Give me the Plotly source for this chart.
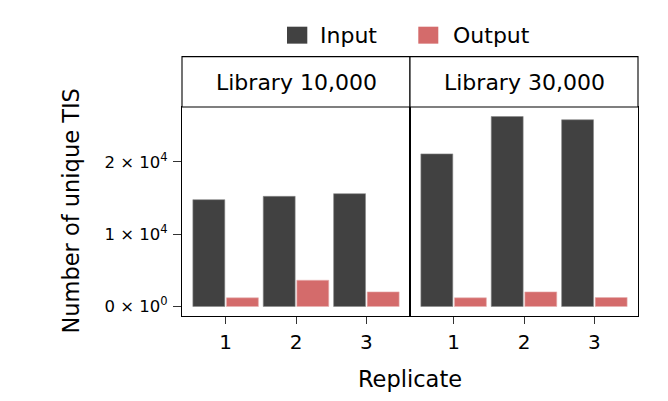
import plotly.graph_objects as go

replicates = [1, 2, 3]
libraries = ["Library 10,000", "Library 30,000"]
input_lib10 = [14770, 15230, 15600]
output_lib10 = [1200, 3630, 2020]
input_lib30 = [21100, 26270, 25820]
output_lib30 = [1200, 2020, 1240]
y_tickvals = [0, 10000, 20000]
y_ticktext = ["0 × 10<sup>0</sup>", "1 × 10<sup>4</sup>", "2 × 10<sup>4</sup>"]

C_IN = "#414141"
C_OUT = "#D46B6B"
FONT = "DejaVu Sans"

W, H = 668, 401
OFF = 8  # page body margin
L, R, T, B = 181.7, 637.7, 106.5, 316.0
pw, ph = R - L, B - T

def px_x(px):
    return (px - L) / pw

def px_y(py):
    return (B - py) / ph

fig = go.Figure()
data = [(input_lib10, output_lib10, "x", "y"), (input_lib30, output_lib30, "x2", "y2")]
for inp, out, xa, ya in data:
    fig.add_trace(go.Bar(x=replicates, y=inp, name="Input", marker=dict(color=C_IN, line=dict(color="#8a8a8a", width=0.6)),
                         xaxis=xa, yaxis=ya, showlegend=False))
    fig.add_trace(go.Bar(x=replicates, y=out, name="Output", marker=dict(color=C_OUT, line=dict(color="#e8b0b0", width=0.6)),
                         xaxis=xa, yaxis=ya, showlegend=False))

yr = [-1313, 27583]
xr = [0.38, 3.62]
ax_common = dict(showline=True, linecolor="black", linewidth=1.1, mirror=True, showgrid=False, zeroline=False,
                 tickwidth=1, tickcolor="#333")
xtf = dict(family=FONT, size=20, color="black")
ytf = dict(family=FONT, size=16.5, color="black")
fig.update_layout(
    width=W - OFF, height=H - OFF,
    margin=dict(l=L - OFF, r=W - R, t=T - OFF, b=H - B),
    paper_bgcolor="white", plot_bgcolor="white",
    barmode="group", bargap=0.045, bargroupgap=0.05,
    font=dict(family=FONT, color="black"),
    xaxis=dict(domain=[0, 0.5], range=xr, tickvals=replicates, ticktext=[str(r) for r in replicates],
               ticks="outside", ticklen=7, ticklabelstandoff=1, tickfont=xtf, **ax_common),
    xaxis2=dict(domain=[0.5, 1], range=xr, tickvals=replicates, ticktext=[str(r) for r in replicates],
                ticks="outside", ticklen=7, ticklabelstandoff=1, tickfont=xtf, **ax_common),
    yaxis=dict(domain=[0, 1], range=yr, anchor="x", tickvals=y_tickvals, ticktext=y_ticktext,
               ticks="outside", ticklen=8, ticklabelstandoff=2, tickfont=ytf, **ax_common),
    yaxis2=dict(domain=[0, 1], range=yr, anchor="x2", showticklabels=False, ticks="", **ax_common),
)

# facet strips
strip_top = px_y(56)
for i, lab in enumerate(libraries):
    x0, x1 = 0.5 * i, 0.5 * (i + 1)
    fig.add_shape(type="rect", xref="paper", yref="paper", x0=x0, x1=x1, y0=1, y1=strip_top,
                  line=dict(color="black", width=1.1), fillcolor="white")
    fig.add_annotation(text=lab, xref="paper", yref="paper", x=(x0 + x1) / 2, y=px_y(81.5),
                       showarrow=False, font=dict(family=FONT, size=22, color="black"), xanchor="center", yanchor="middle")

# legend
for (sx0, sx1, tx, lab, col) in [(286.7, 307, 318, "Input", C_IN), (418, 438, 451, "Output", C_OUT)]:
    fig.add_shape(type="rect", xref="paper", yref="paper", x0=px_x(sx0), x1=px_x(sx1), y0=px_y(43), y1=px_y(26),
                  line=dict(width=0), fillcolor=col)
    fig.add_annotation(text=lab, xref="paper", yref="paper", x=px_x(tx), y=px_y(34.5), xanchor="left", yanchor="middle",
                       showarrow=False, font=dict(family=FONT, size=22, color="black"))

# axis titles
fig.add_annotation(text="Replicate", xref="paper", yref="paper", x=px_x(409.7), y=px_y(379), xanchor="center", yanchor="middle",
                   showarrow=False, font=dict(family=FONT, size=22.5, color="black"))
fig.add_annotation(text="Number of unique TIS", xref="paper", yref="paper", x=px_x(71), y=px_y(211), xanchor="center", yanchor="middle",
                   textangle=-90, showarrow=False, font=dict(family=FONT, size=22.5, color="black"))

fig.write_html("out.html")
